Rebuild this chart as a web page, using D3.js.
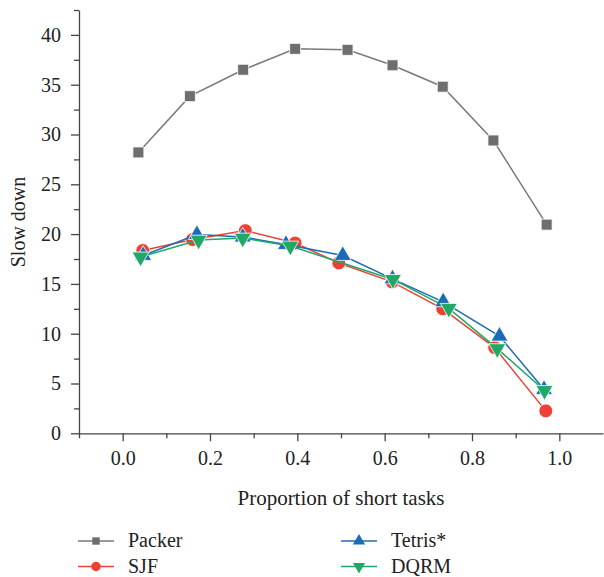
<!DOCTYPE html>
<html>
<head>
<meta charset="utf-8">
<script src="https://cdn.jsdelivr.net/npm/d3@7"></script>
<style>
  body { margin: 0; background: #fff; }
  svg { display: block; }
  .axis path, .axis line { stroke: #444; stroke-width: 1.3; }
</style>
</head>
<body>
<script>
//series names and their x / y values
var seriesNames = ["Packer", "SJF", "Tetris*", "DQRM"];

var packerX = [0.036, 0.154, 0.276, 0.395, 0.515, 0.618, 0.733, 0.849, 0.971];
var packerY = [28.2, 33.85, 36.5, 38.6, 38.5, 36.95, 34.8, 29.4, 20.95];

var sjfX = [0.046, 0.160, 0.281, 0.395, 0.495, 0.617, 0.733, 0.852, 0.969];
var sjfY = [18.35, 19.45, 20.35, 19.1, 17.1, 15.2, 12.5, 8.6, 2.25];

var tetrisX = [0.047, 0.170, 0.275, 0.374, 0.504, 0.618, 0.734, 0.863, 0.965];
var tetrisY = [17.85, 19.95, 19.7, 18.95, 17.85, 15.5, 13.2, 9.75, 4.4];

var dqrmX = [0.041, 0.174, 0.275, 0.384, 0.619, 0.747, 0.858, 0.966];
var dqrmY = [17.7, 19.4, 19.6, 18.8, 15.45, 12.55, 8.5, 4.3];

var xTicks = [0.0, 0.2, 0.4, 0.6, 0.8, 1.0];
var yTicks = [0, 5, 10, 15, 20, 25, 30, 35, 40];

var width = 604, height = 577;
var serif = "'Liberation Serif', 'DejaVu Serif', serif";

var svg = d3.select("body").append("svg")
    .attr("width", width)
    .attr("height", height)
    .style("font-family", serif);

//scales
var x = d3.scaleLinear().domain([-0.1, 1.1]).range([79, 603]);
var y = d3.scaleLinear().domain([0, 42.5]).range([433.3, 10]);

//minor ticks first (no labels)
var xMinor = d3.range(-0.1, 1.05, 0.2).map(function(d){ return +d.toFixed(1); });
var yMinor = d3.range(2.5, 43, 5);

svg.append("g")
    .attr("class", "axis")
    .attr("transform", "translate(0,433.3)")
    .call(d3.axisBottom(x).tickValues(xMinor).tickSize(5).tickFormat(""))
    .select(".domain").remove();

svg.append("g")
    .attr("class", "axis")
    .attr("transform", "translate(79,0)")
    .call(d3.axisLeft(y).tickValues(yMinor).tickSize(5).tickFormat(""))
    .select(".domain").remove();

//major axes
var xAxis = svg.append("g")
    .attr("class", "axis")
    .attr("transform", "translate(0,433.3)")
    .call(d3.axisBottom(x).tickValues(xTicks).tickSize(8).tickSizeOuter(0)
        .tickPadding(10).tickFormat(d3.format(".1f")));

var yAxis = svg.append("g")
    .attr("class", "axis")
    .attr("transform", "translate(79,0)")
    .call(d3.axisLeft(y).tickValues(yTicks).tickSize(8).tickSizeOuter(0)
        .tickPadding(10).tickFormat(d3.format("d")));

//d3 puts font attrs on the axis groups; override them
svg.selectAll(".axis")
    .attr("font-family", null)
    .attr("font-size", null);
svg.selectAll(".axis text")
    .style("font-family", serif)
    .style("font-size", "20px")
    .style("fill", "#222");

//axis titles
svg.append("text")
    .attr("x", 341)
    .attr("y", 505)
    .attr("text-anchor", "middle")
    .style("font-family", serif)
    .style("font-size", "21px")
    .style("fill", "#222")
    .text("Proportion of short tasks");

svg.append("text")
    .attr("transform", "translate(25,222) rotate(-90)")
    .attr("text-anchor", "middle")
    .style("font-family", serif)
    .style("font-size", "20px")
    .style("fill", "#222")
    .text("Slow down");

//series table built from the arrays above
var series = [
    {name: seriesNames[0], xs: packerX, ys: packerY, color: "#6e6e6e", line: "#7a7a7a", shape: d3.symbolSquare, size: 120, legSize: 55, rot: 0},
    {name: seriesNames[1], xs: sjfX, ys: sjfY, color: "#ee4035", line: "#ee4035", shape: d3.symbolCircle, size: 150, legSize: 70, rot: 0},
    {name: seriesNames[2], xs: tetrisX, ys: tetrisY, color: "#1c6bb8", line: "#1c6bb8", shape: d3.symbolTriangle, size: 125, legSize: 65, rot: 0},
    {name: seriesNames[3], xs: dqrmX, ys: dqrmY, color: "#20a866", line: "#20a866", shape: d3.symbolTriangle, size: 125, legSize: 65, rot: 180}
];

var line = d3.line()
    .x(function(d){ return x(d[0]); })
    .y(function(d){ return y(d[1]); });

series.forEach(function(s){
    var pts = s.xs.map(function(v, i){ return [v, s.ys[i]]; });
    var g = svg.append("g").attr("class", "series");
    g.append("path")
        .datum(pts)
        .attr("d", line)
        .attr("fill", "none")
        .attr("stroke", s.line)
        .attr("stroke-width", 1.5);
    g.selectAll(".marker")
        .data(pts)
        .enter()
        .append("path")
        .attr("class", "marker")
        .attr("d", d3.symbol().type(s.shape).size(s.size))
        .attr("transform", function(d){
            return "translate(" + x(d[0]) + "," + y(d[1]) + ") rotate(" + s.rot + ")";
        })
        .attr("fill", s.color)
        .attr("stroke", "#fff")
        .attr("stroke-width", 0.8);
});

//legend, two columns
var legPos = [[78, 541], [78, 566.5], [341, 541], [341, 566.5]];

series.forEach(function(s, i){
    var p = legPos[i];
    var g = svg.append("g").attr("transform", "translate(" + p[0] + "," + p[1] + ")");
    g.append("line")
        .attr("x1", 0).attr("x2", 36)
        .attr("y1", 0).attr("y2", 0)
        .attr("stroke", s.line)
        .attr("stroke-width", 1.5);
    g.append("path")
        .attr("d", d3.symbol().type(s.shape).size(s.legSize))
        .attr("transform", "translate(18,0) rotate(" + s.rot + ")")
        .attr("fill", s.color);
    g.append("text")
        .attr("x", 50)
        .attr("y", 6)
        .style("font-family", serif)
        .style("font-size", "20px")
        .style("fill", "#222")
        .text(s.name);
});
</script>
</body>
</html>
